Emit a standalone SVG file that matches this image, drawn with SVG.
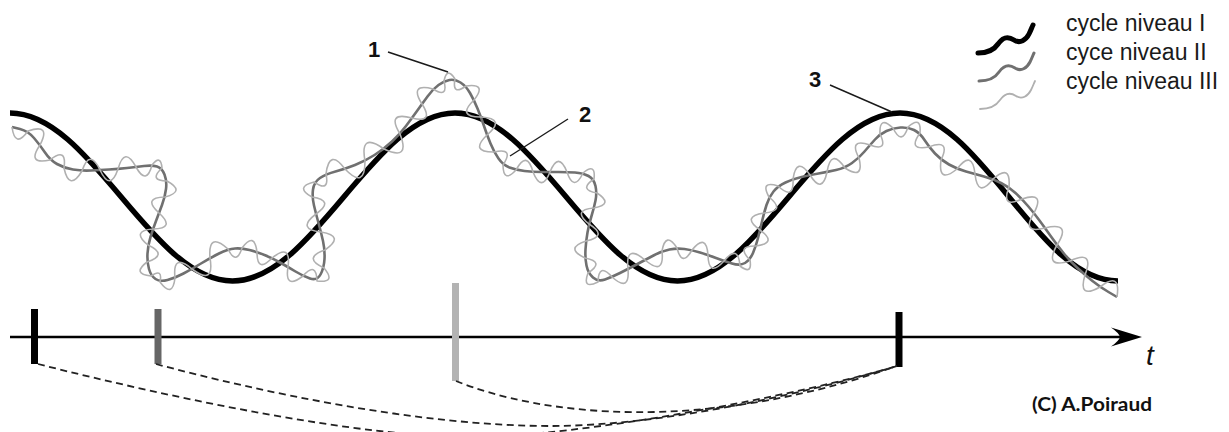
<svg xmlns="http://www.w3.org/2000/svg" width="1229" height="432" viewBox="0 0 1229 432">
<style>
.lvl1{fill:none;stroke:#000;stroke-width:5.5;stroke-linecap:butt}
.lvl2{fill:none;stroke:#707070;stroke-width:2.6;stroke-linejoin:round}
.lvl3{fill:none;stroke:#b0b0b0;stroke-width:1.6;stroke-linejoin:round}
.lead{fill:none;stroke:#1a1a1a;stroke-width:1.4}
.num{font-family:"Liberation Sans",Arial,sans-serif;font-weight:bold;font-size:22px;fill:#111}
.leg{font-family:"Liberation Sans",Arial,sans-serif;font-size:23px;fill:#1a1a1a}
.dash{fill:none;stroke:#222;stroke-width:1.8;stroke-dasharray:7 4.5}
.tick{stroke-width:7;fill:none}
</style>
<rect width="1229" height="432" fill="#fff"/>
<g id="waves">
<path id="cycle-I" class="lvl1" d="M10,113 C91,113 151.5,281 232.5,281 C313.5,281 374,113 455,113 C536,113 596.5,281 677.5,281 C758.5,281 819,113 900,113 C981,113 1037,281 1118,281"/>
<path id="cycle-II" class="lvl2" d="M12,127 L20,129 Q28,131 34,138 Q40,145 45,152.5 Q50,160 57,164 Q64,168 73,169.5 Q82,171 91,170.5 Q100,170 109,169.5 Q118,169 127,168 Q136,167 144,166 Q152,165 157,166.5 Q162,168 164.5,174.5 Q167,181 166,189 Q165,197 162,205 Q159,213 156,221 Q153,229 150.5,237 Q148,245 147.5,253.5 Q147,262 149,269 Q151,276 155.5,279 Q160,282 167.5,280 Q175,278 183.5,273.5 Q192,269 201,263.5 Q210,258 219,253.5 Q228,249 235,248.5 Q242,248 249.5,250 Q257,252 264.5,255 Q272,258 280,262.5 Q288,267 295.5,271.5 Q303,276 310,278.5 Q317,281 320.5,274.5 Q324,268 324.5,259 Q325,250 323,241 Q321,232 318.5,223 Q316,214 314,205.5 Q312,197 313,189.5 Q314,182 320,178 Q326,174 335.5,171.5 Q345,169 355,165 Q365,161 374.5,155 Q384,149 392,141.5 Q400,134 406,126 Q412,118 417,111 Q422,104 427.5,96.5 Q433,89 438.5,85 Q444,81 449.5,80 Q455,79 460.5,82.5 Q466,86 470,93 Q474,100 477.5,108.5 Q481,117 484,126 Q487,135 490.5,143.5 Q494,152 498.5,158.5 Q503,165 509.5,167.5 Q516,170 524.5,171 Q533,172 541.5,172 Q550,172 558.5,172 Q567,172 575,172.5 Q583,173 588.5,176 Q594,179 595.5,186 Q597,193 595.5,200.5 Q594,208 591.5,216 Q589,224 587.5,232.5 Q586,241 585.5,249.5 Q585,258 586.5,265.5 Q588,273 593,277.5 Q598,282 605,279.5 Q612,277 620,273 Q628,269 636.5,264.5 Q645,260 653.5,255.5 Q662,251 669.5,249.5 Q677,248 684.5,249 Q692,250 700,252.5 Q708,255 716,258 Q724,261 732,263.5 Q740,266 745,263 Q750,260 753,253 Q756,246 758,238 Q760,230 762,221.5 Q764,213 766.5,205 Q769,197 773.5,191.5 Q778,186 785.5,182.5 Q793,179 801.5,177 Q810,175 818.5,173.5 Q827,172 836,170 Q845,168 852,163 Q859,158 864.5,151.5 Q870,145 875,139.5 Q880,134 886.5,131 Q893,128 900.5,127.5 Q908,127 914,130 Q920,133 924.5,140 Q929,147 935,153.5 Q941,160 949,164.5 Q957,169 966,171.5 Q975,174 984,176.5 Q993,179 1001,183 Q1009,187 1015.5,193 Q1022,199 1028,206 Q1034,213 1039.5,220.5 Q1045,228 1051,236.5 Q1057,245 1063.5,253 Q1070,261 1077.5,268 Q1085,275 1092.5,281 Q1100,287 1108.5,292 L1117,297"/>
<path id="cycle-III" class="lvl3" d="M12,127 Q15,149 28,131 Q51.5,123 40,145 Q26.25,165 50,160 Q67,146.5 64,168 Q69.25,192 82,171 Q89.75,148 100,170 Q110.25,192 118,169 Q124.5,145.5 136,167 Q146.5,186 152,165 Q160.75,154 162,168 Q148.25,180.75 167,181 Q186,191.5 165,197 Q142,197.5 159,213 Q176,228.5 153,229 Q130.5,230.75 148,245 Q168.75,254.75 147,262 Q131.5,274 151,276 Q163,267.75 160,282 Q172.5,298.75 175,278 Q172.25,252.25 192,269 Q214.75,286 210,258 Q207.75,231 228,249 Q236.25,266 242,248 Q254.5,231.25 257,252 Q257,273.75 272,258 Q291.25,242.5 288,267 Q284.25,290.25 303,276 Q316.25,261 317,281 Q336.75,283.25 324,268 Q302,257.75 325,250 Q345.5,236 321,232 Q296,229.25 316,214 Q335.25,200.5 312,197 Q294.25,187 314,182 Q330,193 326,174 Q329.25,147.75 345,169 Q365,190 365,161 Q359.5,131.25 384,149 Q410.75,161.5 400,134 Q386,111 412,118 Q434.5,123.5 422,104 Q408.75,82.75 433,89 Q448.5,98.75 444,81 Q447,66.25 455,79 Q451.75,96.25 466,86 Q487.5,83 474,100 Q456.25,117.25 481,117 Q506.5,118.5 487,135 Q469.25,152.25 494,152 Q514.75,147.25 503,165 Q503.25,183.75 516,170 Q527,149.75 533,172 Q541.5,193.25 550,172 Q558.5,150.75 567,172 Q573.75,192.5 583,173 Q596,162.25 594,179 Q578,189.75 597,193 Q614.25,204.25 594,208 Q571.5,209.75 589,224 Q608.75,236.25 586,241 Q564.25,248.25 585,258 Q605.25,261.75 588,273 Q581.75,290 598,282 Q598.75,262 612,277 Q630,293 628,269 Q625.25,243.25 645,260 Q664.75,276.75 662,251 Q665.75,230.75 677,248 Q682,267.75 692,250 Q706.25,232.5 708,255 Q708.5,278 724,261 Q738.25,243.5 740,266 Q752.5,275.5 750,260 Q735.5,245.5 756,246 Q778,243 760,230 Q740.75,216.5 764,213 Q786.5,211.25 769,197 Q759.75,180.25 778,186 Q794.25,201.25 793,179 Q796.5,155.75 810,175 Q822.25,194.75 827,172 Q831,147.5 845,168 Q864.5,180.5 859,158 Q848.25,137.75 870,145 Q888.75,152 880,134 Q879,114.75 893,128 Q901.75,146.25 908,127 Q921.5,115 920,133 Q907,151.25 929,147 Q951.25,138.5 941,160 Q937.75,184.5 957,169 Q972.25,149 975,174 Q977.75,199 993,179 Q1011,163 1009,187 Q1000.5,209.25 1022,199 Q1045.5,191 1034,213 Q1020.75,234.25 1045,228 Q1072.25,221.5 1057,245 Q1043.5,269.25 1070,261 Q1095,249.25 1085,275 Q1077.5,299.75 1100,287 Q1121,270.75 1117,297"/>
</g>
<g id="callouts">
<line class="lead" x1="388" y1="52" x2="448" y2="72"/>
<text class="num" x="368" y="57">1</text>
<line class="lead" x1="568" y1="119" x2="510" y2="156"/>
<text class="num" x="579" y="122">2</text>
<line class="lead" x1="830" y1="85" x2="892" y2="112"/>
<text class="num" x="809" y="87">3</text>
</g>
<g id="legend">
<path d="M978,53 c10,0 16,-3 20,-9 c5,-7 10,-8 16,-4 c6,4 12,0 15,-6 c2,-4 3,-7 4,-9" fill="none" stroke="#000" stroke-width="5" stroke-linecap="round"/>
<path d="M979,81 c10,0 16,-3 20,-9 c5,-7 10,-8 16,-4 c6,4 12,0 15,-6 c2,-4 3,-7 4,-9" fill="none" stroke="#707070" stroke-width="3" stroke-linecap="round"/>
<path d="M980,109 c10,0 16,-3 20,-9 c5,-7 10,-8 16,-4 c6,4 12,0 15,-6 c2,-4 3,-7 4,-9" fill="none" stroke="#b0b0b0" stroke-width="1.8" stroke-linecap="round"/>
<text class="leg" x="1066" y="31">cycle niveau I</text>
<text class="leg" x="1066" y="60">cyce niveau II</text>
<text class="leg" x="1066" y="89">cycle niveau III</text>
</g>
<g id="axis">
<line x1="10" y1="337" x2="1124" y2="337" stroke="#000" stroke-width="2.6"/>
<path d="M1142,337 L1111,327.5 Q1119,333 1120,337 Q1119,341 1111,346.5 Z" fill="#000"/>
<text x="1146" y="365" font-family="Liberation Sans, Arial, sans-serif" font-style="italic" font-size="28" fill="#111">t</text>
</g>
<g id="ticks">
<line class="tick" x1="34.5" y1="309" x2="34.5" y2="364" stroke="#000"/>
<line class="tick" x1="158" y1="309" x2="158" y2="364" stroke="#666"/>
<line class="tick" x1="455.5" y1="283" x2="455.5" y2="381" stroke="#b3b3b3"/>
<line class="tick" x1="899" y1="312" x2="899" y2="367" stroke="#000"/>
</g>
<g id="connectors">
<path class="dash" d="M38,364 C180,400 360,437 470,437 C580,437 800,395 897,366"/>
<path class="dash" d="M156,364 C260,392 420,426 550,426 C660,426 800,395 897,366"/>
<path class="dash" d="M456,381 C540,415 700,435 897,366"/>
</g>
<text x="1032" y="411" font-family="Lato, 'Open Sans', sans-serif" font-weight="bold" font-size="19" fill="#111" textLength="120" lengthAdjust="spacingAndGlyphs">(C) A.Poiraud</text>
</svg>
